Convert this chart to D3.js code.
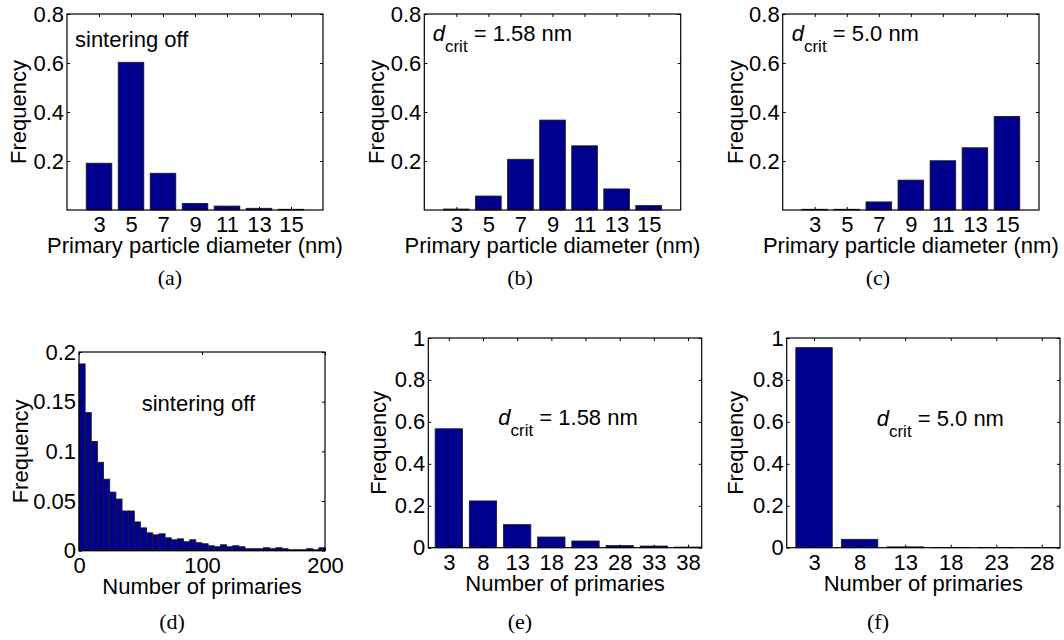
<!DOCTYPE html>
<html>
<head>
<meta charset="utf-8">
<script src="https://cdn.jsdelivr.net/npm/d3@7"></script>
<style>
  html, body { margin: 0; padding: 0; background: #ffffff; }
  svg { display: block; }
  text { font-family: "Liberation Sans", Arial, Helvetica, sans-serif; fill: #000; }
  .caption { font-family: "Liberation Serif", "DejaVu Serif", serif; }
</style>
</head>
<body>
<svg id="chart" width="1064" height="640"></svg>
<script>
// ---------------- data ----------------
const diamCats = [3, 5, 7, 9, 11, 13, 15];
const freqDiamOff = [0.191, 0.603, 0.150, 0.027, 0.016, 0.007, 0.003];
const freqDiam158 = [0.004, 0.057, 0.207, 0.367, 0.262, 0.086, 0.018];
const freqDiam50  = [0.003, 0.003, 0.033, 0.122, 0.201, 0.254, 0.382];

const primBinStarts = [0, 5, 10, 15, 20, 25, 30, 35, 40, 45, 50, 55, 60, 65, 70, 75, 80, 85, 90, 95,
                       100, 105, 110, 115, 120, 125, 130, 135, 140, 145, 150, 155, 160, 165, 170, 175, 180, 185, 190, 195];
const freqPrimOff = [0.188, 0.139, 0.110, 0.089, 0.072, 0.059, 0.052, 0.040, 0.040, 0.029,
                     0.023, 0.018, 0.016, 0.017, 0.013, 0.011, 0.012, 0.009, 0.011, 0.008,
                     0.007, 0.005, 0.004, 0.006, 0.004, 0.005, 0.004, 0.002, 0.002, 0.002,
                     0.003, 0.002, 0.003, 0.002, 0.001, 0.001, 0.001, 0.002, 0.001, 0.003];
const primBinWidth = 5;

const primCatsE = [3, 8, 13, 18, 23, 28, 33, 38];
const freqPrim158 = [0.567, 0.223, 0.110, 0.051, 0.032, 0.010, 0.008, 0.003];
const primCatsF = [3, 8, 13, 18, 23, 28];
const freqPrim50 = [0.954, 0.040, 0.004, 0.001, 0.0005, 0.0003];

const yTicksTop = [0.2, 0.4, 0.6, 0.8];
const yTicksD = [0, 0.05, 0.1, 0.15, 0.2];
const yTicksBottom = [0, 0.2, 0.4, 0.6, 0.8, 1];
const xTicksD = [0, 100, 200];

const xLabelDiam = "Primary particle diameter (nm)";
const xLabelPrim = "Number of primaries";
const yLabel = "Frequency";
const captions = ["(a)", "(b)", "(c)", "(d)", "(e)", "(f)"];

// ---------------- layout ----------------
const BAR_FILL = "#00008f";
const FONT = 22;

const panels = [
  { cap: captions[0], box: [67, 323, 14, 210], xDomain: [1, 17], yDomain: [0, 0.8], kind: "bar",
    cats: diamCats, vals: freqDiamOff, xTicks: diamCats, yTicks: yTicksTop, xLabel: xLabelDiam,
    yLabOff: 41, capX: 170, capDy: 75, note: { type: "plain", text: "sintering off", x: 75, y: 46.5 } },
  { cap: captions[1], box: [424.3, 680.7, 14, 210], xDomain: [1, 17], yDomain: [0, 0.8], kind: "bar",
    cats: diamCats, vals: freqDiam158, xTicks: diamCats, yTicks: yTicksTop, xLabel: xLabelDiam,
    yLabOff: 40.5, capX: 520, capDy: 75, note: { type: "dcrit", text: " = 1.58 nm", x: 432.7, y: 40.5 } },
  { cap: captions[2], box: [782.7, 1039, 14, 210], xDomain: [1, 17], yDomain: [0, 0.8], kind: "bar",
    cats: diamCats, vals: freqDiam50, xTicks: diamCats, yTicks: yTicksTop, xLabel: xLabelDiam,
    yLabOff: 40, capX: 878, capDy: 75, note: { type: "dcrit", text: " = 5.0 nm", x: 791.7, y: 40.5 } },
  { cap: captions[3], box: [79, 325, 352, 550.7], xDomain: [0, 200], yDomain: [0, 0.2], kind: "hist",
    cats: primBinStarts, vals: freqPrimOff, xTicks: xTicksD, yTicks: yTicksD, xLabel: xLabelPrim,
    yLabOff: 51, capX: 172, capDy: 78, note: { type: "plain", text: "sintering off", x: 141.7, y: 410.7 } },
  { cap: captions[4], box: [428.3, 701.7, 338, 547.7], xDomain: [0, 40], yDomain: [0, 1], kind: "bar",
    cats: primCatsE, vals: freqPrim158, xTicks: primCatsE, yTicks: yTicksBottom, xLabel: xLabelPrim,
    yLabOff: 42.5, capX: 520, capDy: 81, note: { type: "dcrit", text: " = 1.58 nm", x: 498.3, y: 425 } },
  { cap: captions[5], box: [786.7, 1060, 338, 547.7], xDomain: [0, 30], yDomain: [0, 1], kind: "bar",
    cats: primCatsF, vals: freqPrim50, xTicks: primCatsF, yTicks: yTicksBottom, xLabel: xLabelPrim,
    yLabOff: 44, capX: 878, capDy: 81, note: { type: "dcrit", text: " = 5.0 nm", x: 876.7, y: 426 } }
];

const svg = d3.select("#chart");
const fmt = d => d3.format("")(+d.toFixed(2));

panels.forEach(p => {
  const [x0, x1, y0, y1] = p.box;
  const x = d3.scaleLinear().domain(p.xDomain).range([x0, x1]);
  const y = d3.scaleLinear().domain(p.yDomain).range([y1, y0]);
  const g = svg.append("g");

  // bars
  if (p.kind === "bar") {
    const step = p.cats[1] - p.cats[0];
    const bw = 0.8 * step;
    g.selectAll("rect.bar").data(p.cats).join("rect")
      .attr("class", "bar")
      .attr("x", (c) => x(c - bw / 2))
      .attr("width", (c) => x(c + bw / 2) - x(c - bw / 2))
      .attr("y", (c, i) => y(p.vals[i]))
      .attr("height", (c, i) => y(0) - y(p.vals[i]))
      .attr("fill", BAR_FILL)
      .attr("stroke", "#1a1a1a")
      .attr("stroke-width", 0.8);
  } else {
    g.selectAll("rect.bar").data(p.cats).join("rect")
      .attr("class", "bar")
      .attr("x", (c) => x(c))
      .attr("width", (c) => x(c + primBinWidth) - x(c))
      .attr("y", (c, i) => y(p.vals[i]))
      .attr("height", (c, i) => y(0) - y(p.vals[i]))
      .attr("fill", BAR_FILL)
      .attr("stroke", "#1a1a1a")
      .attr("stroke-width", 0.8);
  }

  const tl = 3;
  const ax = g.append("g").attr("transform", `translate(0,${y1})`)
    .call(d3.axisBottom(x).tickValues(p.xTicks).tickSize(-tl).tickPadding(6.5).tickFormat(d3.format("")));
  const axT = g.append("g").attr("transform", `translate(0,${y0})`)
    .call(d3.axisTop(x).tickValues(p.xTicks).tickSize(-tl).tickFormat(""));
  const ayL = g.append("g").attr("transform", `translate(${x0},0)`)
    .call(d3.axisLeft(y).tickValues(p.yTicks).tickSize(-tl).tickPadding(3).tickFormat(fmt));
  const ayR = g.append("g").attr("transform", `translate(${x1},0)`)
    .call(d3.axisRight(y).tickValues(p.yTicks).tickSize(-tl).tickFormat(""));

  [ax, axT, ayL, ayR].forEach(a => {
    a.select(".domain").remove();
    a.selectAll(".tick line").attr("stroke", "#000").attr("stroke-width", 1);
    a.selectAll(".tick text").attr("font-size", FONT).attr("font-family", "Liberation Sans, Arial, sans-serif").attr("fill", "#000");
  });

  g.append("rect").attr("x", x0).attr("y", y0).attr("width", x1 - x0).attr("height", y1 - y0)
    .attr("fill", "none").attr("stroke", "#000").attr("stroke-width", 1.2);

  g.append("text").attr("x", (x0 + x1) / 2).attr("y", y1 + 43)
    .attr("text-anchor", "middle").attr("font-size", FONT).text(p.xLabel);

  g.append("text")
    .attr("transform", `translate(${x0 - p.yLabOff},${(y0 + y1) / 2}) rotate(-90)`)
    .attr("text-anchor", "middle").attr("font-size", FONT).text(yLabel);

  const n = p.note;
  if (n.type === "plain") {
    g.append("text").attr("x", n.x).attr("y", n.y).attr("font-size", FONT).text(n.text);
  } else {
    const t = g.append("text").attr("x", n.x).attr("y", n.y).attr("font-size", FONT);
    t.append("tspan").attr("font-style", "italic").text("d");
    t.append("tspan").attr("font-size", 17).attr("dy", 11).text("crit");
    t.append("tspan").attr("dy", -11).text(n.text);
  }

  g.append("text").attr("class", "caption").attr("x", p.capX).attr("y", y1 + p.capDy)
    .attr("text-anchor", "middle").attr("font-size", 22).text(p.cap);
});
</script>
</body>
</html>
